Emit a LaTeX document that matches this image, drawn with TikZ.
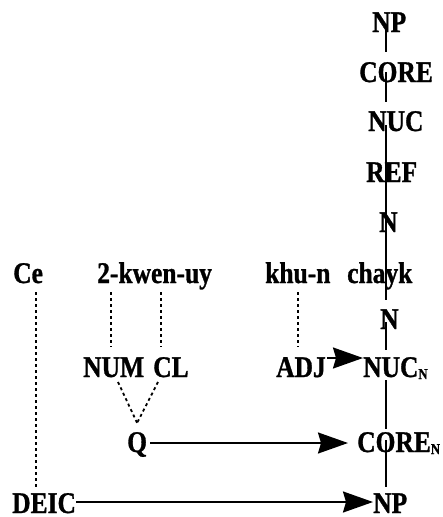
\documentclass[tikz,border=0pt]{standalone}
\usepackage{fontspec}
\newfontfamily\labfont{Liberation Serif}[FakeStretch=0.85,FakeBold=1]
\usetikzlibrary{arrows.meta,calc}
\newcommand{\subN}{{\fontsize{15}{15}\selectfont\raisebox{-2pt}{N}}}
\begin{document}
\begin{tikzpicture}[x=1pt,y=-1pt,
  lab/.style={inner sep=0pt,anchor=base west,font=\labfont\bfseries\fontsize{30}{32}\selectfont},
  spineline/.style={line width=2pt},
  arr/.style={line width=2pt,-{Stealth[length=30pt,width=21pt,inset=3pt]}},
  dotline/.style={line width=1.8pt,dash pattern=on 3pt off 3pt}]
\useasboundingbox (0,0) rectangle (442,517);
\coordinate (spine) at (386,0);
% chain
\node[lab] (np1) at (372,32) {NP};
\node[lab] (core1) at (359,82) {CORE};
\node[lab] (nuc1) at (368,131) {NUC};
\node[lab] (ref1) at (366,182) {REF};
\node[lab] (n1) at (379,232) {N};
\node[lab] (chayk) at (347,283) {chayk};
\node[lab] (n2) at (380,329) {N};
\node[lab] (nucN) at (363,377) {NUC\subN};
\node[lab] (coreN) at (357,452) {CORE\subN};
\node[lab] (np2) at (373,513) {NP};
% words and categories
\node[lab] (ce) at (13,283) {Ce};
\node[lab] (kwen) at (97,283) {2-kwen-uy};
\node[lab] (khun) at (265,283) {khu-n};
\node[lab] (num) at (83,377) {NUM};
\node[lab] (cl) at (153,377) {CL};
\node[lab] (adj) at (276,377) {ADJ};
\node[lab] (q) at (127,452) {Q};
\node[lab] (deic) at (12,513) {DEIC};
% spine segments
\draw[spineline] ($(spine |- np1.base)+(0,-4)$) -- ($(spine |- core1.north)+(0,-10)$);
\draw[spineline] ($(spine |- core1.base)+(0,-10)$) -- ($(spine |- nuc1.north)+(0,-9)$);
\draw[spineline] ($(spine |- nuc1.base)+(0,-6)$) -- (spine |- ref1.base)
  -- (spine |- n1.base) -- (spine |- chayk.base) -- ($(spine |- n2.north)+(0,-9)$);
\draw[spineline] ($(spine |- n2.base)+(0,-7)$) -- ($(spine |- nucN.north)+(0,-7)$);
\draw[spineline] ($(spine |- nucN.base)+(0,3)$) -- ($(spine |- coreN.north)+(0,-3)$);
\draw[spineline] ($(spine |- coreN.base)+(0,-12)$) -- ($(spine |- np2.north)+(0,-6)$);
% arrows
\draw[arr] ($(adj.base east)+(1,-19)$) -- ($(nucN.base west)+(0,-19)$);
\draw[arr] ($(q.base east)+(3,-9)$) -- ($(coreN.base west)+(-9,-9)$);
\draw[arr] ($(deic.base east)+(0,-11)$) -- ($(np2.base west)+(0,-11)$);
% dotted links
\draw[dotline] ($(ce.base west)+(23,9)$) -- ($(ce.base west |- deic.north)+(23,-5)$);
\draw[dotline] ($(kwen.base west)+(14,9)$) -- ($(kwen.base west |- num.north)+(14,-10)$);
\draw[dotline] ($(kwen.base west)+(64,9)$) -- ($(kwen.base west |- cl.north)+(64,-10)$);
\draw[dotline] ($(khun.base west)+(33,9)$) -- ($(khun.base west |- adj.north)+(33,-10)$);
\draw[dotline] ($(num.base west)+(35,5)$) -- ($(q.north)+(0,-9)$);
\draw[dotline] ($(cl.base west)+(5,5)$) -- ($(q.north)+(0,-9)$);
\end{tikzpicture}
\end{document}
